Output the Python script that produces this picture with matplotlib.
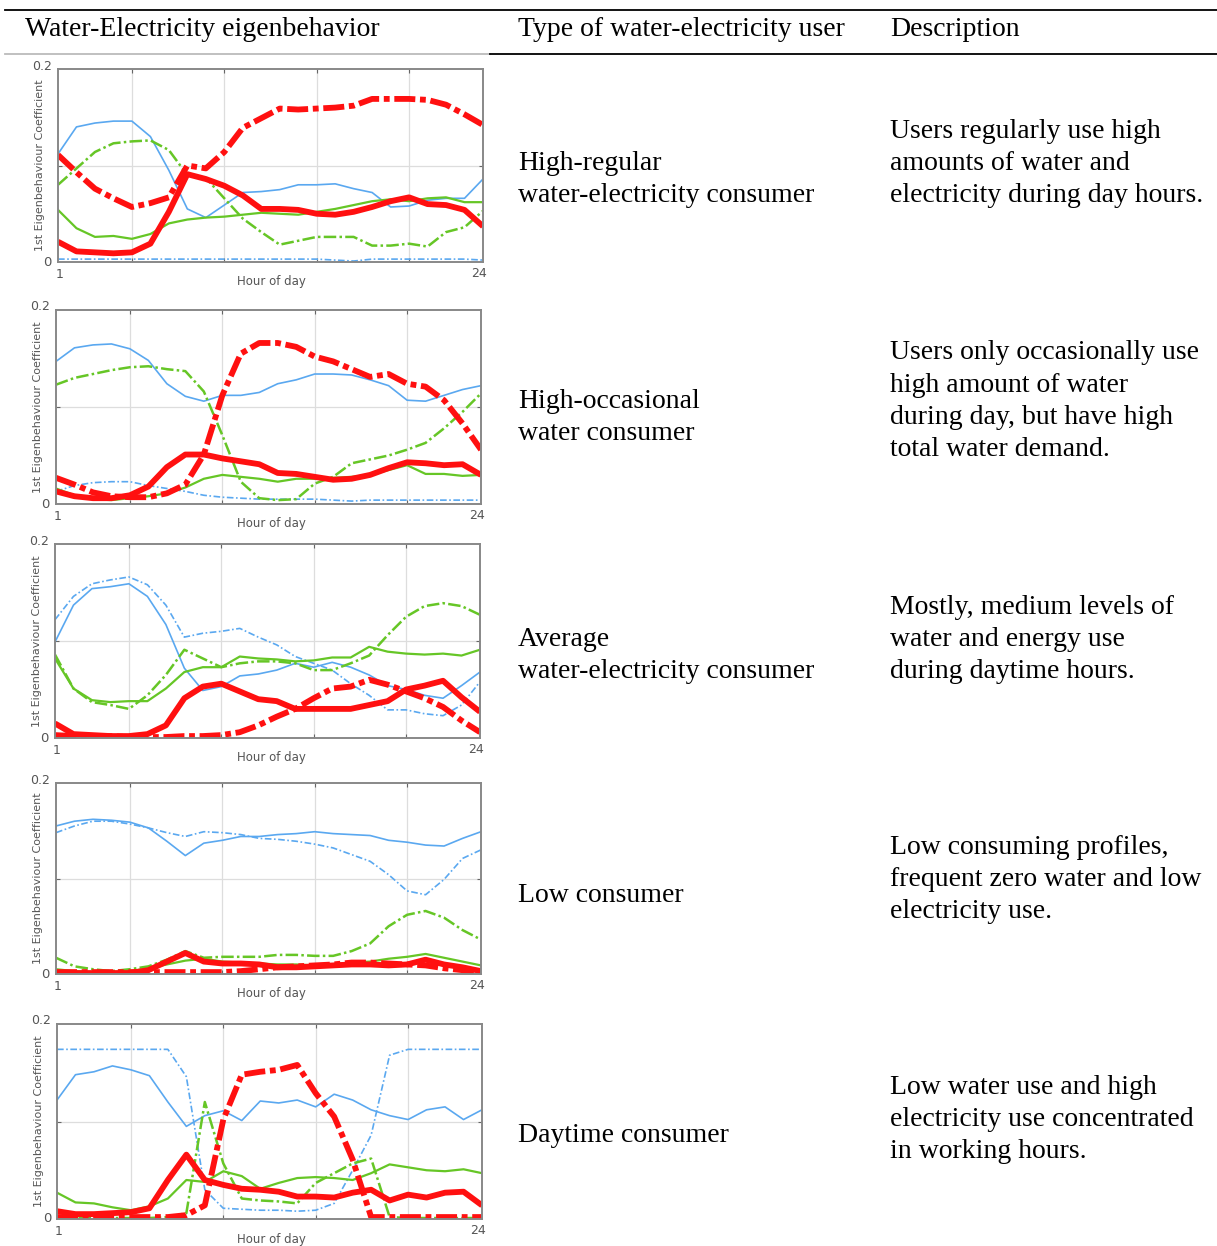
"""Table of water-electricity eigenbehaviour profiles with user types and descriptions."""
import matplotlib
matplotlib.use("Agg")
import matplotlib.pyplot as plt
from matplotlib.lines import Line2D

W, H = 1217, 1246
BLUE, GREEN, RED = "#5aa8f0", "#66c626", "#ff1010"
SERIF = ["Liberation Serif", "DejaVu Serif"]

hours = list(range(1, 25))

# panel 1: high-regular
hr_blue = [0.112, 0.140, 0.144, 0.146, 0.146, 0.130, 0.095, 0.055, 0.046, 0.059, 0.072, 0.073,
           0.075, 0.080, 0.080, 0.081, 0.076, 0.072, 0.057, 0.058, 0.064, 0.066, 0.066, 0.086]
hr_blue_dd = [0.003, 0.003, 0.003, 0.003, 0.003, 0.003, 0.003, 0.003, 0.003, 0.003, 0.003, 0.003,
              0.003, 0.003, 0.003, 0.002, 0.001, 0.003, 0.003, 0.003, 0.003, 0.003, 0.003, 0.002]
hr_green = [0.054, 0.035, 0.026, 0.027, 0.024, 0.029, 0.040, 0.044, 0.046, 0.047, 0.049, 0.051,
            0.050, 0.049, 0.052, 0.055, 0.059, 0.063, 0.065, 0.063, 0.066, 0.067, 0.062, 0.062]
hr_green_dd = [0.080, 0.097, 0.114, 0.123, 0.125, 0.126, 0.116, 0.090, 0.087, 0.066, 0.045, 0.031,
               0.018, 0.022, 0.026, 0.026, 0.026, 0.017, 0.017, 0.019, 0.016, 0.031, 0.036, 0.053]
hr_red = [0.021, 0.011, 0.010, 0.009, 0.010, 0.019, 0.052, 0.091, 0.086, 0.079, 0.069, 0.055,
          0.055, 0.054, 0.050, 0.049, 0.052, 0.057, 0.063, 0.067, 0.060, 0.059, 0.054, 0.037]
hr_red_dd = [0.111, 0.093, 0.076, 0.066, 0.057, 0.061, 0.067, 0.100, 0.097, 0.114, 0.139, 0.149,
             0.159, 0.158, 0.159, 0.160, 0.162, 0.169, 0.169, 0.169, 0.168, 0.163, 0.153, 0.142]

# panel 2: high-occasional
ho_blue = [0.147, 0.161, 0.164, 0.165, 0.160, 0.148, 0.124, 0.111, 0.106, 0.112, 0.112, 0.115,
           0.124, 0.128, 0.134, 0.134, 0.133, 0.128, 0.122, 0.107, 0.106, 0.112, 0.118, 0.122]
ho_blue_dd = [0.013, 0.019, 0.022, 0.023, 0.023, 0.019, 0.016, 0.013, 0.009, 0.007, 0.006, 0.005,
              0.005, 0.005, 0.005, 0.004, 0.003, 0.004, 0.004, 0.004, 0.004, 0.004, 0.004, 0.004]
ho_green = [0.016, 0.009, 0.005, 0.004, 0.006, 0.008, 0.011, 0.017, 0.026, 0.030, 0.028, 0.026,
            0.023, 0.026, 0.026, 0.027, 0.028, 0.030, 0.035, 0.040, 0.031, 0.031, 0.029, 0.030]
ho_green_dd = [0.123, 0.130, 0.134, 0.138, 0.141, 0.142, 0.139, 0.137, 0.116, 0.071, 0.023, 0.006,
               0.004, 0.005, 0.021, 0.028, 0.042, 0.046, 0.050, 0.056, 0.063, 0.078, 0.095, 0.114]
ho_red = [0.013, 0.008, 0.006, 0.006, 0.009, 0.018, 0.038, 0.051, 0.051, 0.047, 0.044, 0.041,
          0.032, 0.031, 0.028, 0.025, 0.026, 0.030, 0.037, 0.043, 0.042, 0.040, 0.041, 0.030]
ho_red_dd = [0.027, 0.020, 0.012, 0.008, 0.007, 0.007, 0.011, 0.020, 0.051, 0.112, 0.155, 0.166,
             0.166, 0.162, 0.152, 0.147, 0.139, 0.131, 0.134, 0.124, 0.121, 0.107, 0.083, 0.056]

# panel 3: average
av_blue = [0.099, 0.137, 0.154, 0.156, 0.159, 0.146, 0.117, 0.072, 0.049, 0.053, 0.064, 0.066,
           0.070, 0.077, 0.073, 0.078, 0.073, 0.065, 0.054, 0.050, 0.044, 0.041, 0.054, 0.068]
av_blue_dd = [0.122, 0.146, 0.159, 0.163, 0.166, 0.158, 0.137, 0.104, 0.108, 0.110, 0.113, 0.104,
              0.096, 0.084, 0.077, 0.070, 0.056, 0.044, 0.029, 0.029, 0.025, 0.023, 0.034, 0.058]
av_green = [0.082, 0.051, 0.039, 0.037, 0.038, 0.038, 0.051, 0.068, 0.073, 0.073, 0.084, 0.082,
            0.081, 0.079, 0.080, 0.083, 0.083, 0.094, 0.089, 0.087, 0.086, 0.087, 0.085, 0.091]
av_green_dd = [0.086, 0.051, 0.037, 0.034, 0.030, 0.044, 0.065, 0.091, 0.082, 0.073, 0.077, 0.079,
               0.079, 0.077, 0.070, 0.070, 0.077, 0.085, 0.106, 0.125, 0.136, 0.139, 0.136, 0.127]
av_red = [0.015, 0.004, 0.003, 0.002, 0.002, 0.004, 0.013, 0.041, 0.053, 0.056, 0.048, 0.040,
          0.038, 0.030, 0.030, 0.030, 0.030, 0.034, 0.038, 0.050, 0.054, 0.059, 0.042, 0.027]
av_red_dd = [0.003, 0.002, 0.002, 0.002, 0.001, 0.001, 0.001, 0.002, 0.002, 0.003, 0.006, 0.013,
             0.022, 0.030, 0.041, 0.051, 0.053, 0.060, 0.055, 0.048, 0.041, 0.032, 0.018, 0.006]

# panel 4: low consumer
lo_blue = [0.155, 0.160, 0.162, 0.161, 0.159, 0.153, 0.139, 0.124, 0.137, 0.140, 0.144, 0.144,
           0.146, 0.147, 0.149, 0.147, 0.146, 0.145, 0.140, 0.138, 0.135, 0.134, 0.142, 0.149]
lo_blue_dd = [0.148, 0.155, 0.160, 0.160, 0.157, 0.153, 0.148, 0.144, 0.149, 0.148, 0.146, 0.142,
              0.141, 0.139, 0.136, 0.132, 0.125, 0.118, 0.104, 0.087, 0.083, 0.099, 0.121, 0.130]
lo_green = [0.005, 0.003, 0.002, 0.002, 0.003, 0.006, 0.010, 0.014, 0.016, 0.013, 0.012, 0.011,
            0.010, 0.010, 0.009, 0.010, 0.012, 0.013, 0.016, 0.018, 0.021, 0.017, 0.013, 0.009]
lo_green_dd = [0.017, 0.008, 0.005, 0.003, 0.005, 0.008, 0.015, 0.024, 0.017, 0.018, 0.018, 0.018,
               0.020, 0.020, 0.019, 0.019, 0.024, 0.032, 0.050, 0.062, 0.066, 0.059, 0.046, 0.036]
lo_red = [0.001, 0.001, 0.001, 0.001, 0.001, 0.004, 0.013, 0.022, 0.013, 0.011, 0.011, 0.010,
          0.007, 0.007, 0.008, 0.009, 0.010, 0.010, 0.009, 0.010, 0.015, 0.010, 0.007, 0.003]
lo_red_dd = [0.002, 0.002, 0.002, 0.002, 0.002, 0.002, 0.002, 0.002, 0.002, 0.002, 0.003, 0.005,
             0.007, 0.008, 0.009, 0.010, 0.012, 0.012, 0.011, 0.010, 0.009, 0.006, 0.004, 0.002]

# panel 5: daytime consumer
dt_blue = [0.122, 0.148, 0.151, 0.157, 0.153, 0.147, 0.120, 0.095, 0.106, 0.111, 0.101, 0.121,
           0.119, 0.122, 0.115, 0.128, 0.122, 0.112, 0.106, 0.102, 0.112, 0.115, 0.102, 0.112]
dt_blue_dd = [0.174, 0.174, 0.174, 0.174, 0.174, 0.174, 0.174, 0.146, 0.030, 0.011, 0.010, 0.009,
              0.009, 0.008, 0.009, 0.016, 0.050, 0.086, 0.168, 0.174, 0.174, 0.174, 0.174, 0.174]
dt_green = [0.027, 0.017, 0.016, 0.012, 0.009, 0.013, 0.021, 0.040, 0.038, 0.049, 0.044, 0.031,
            0.037, 0.042, 0.043, 0.042, 0.040, 0.047, 0.056, 0.053, 0.050, 0.049, 0.051, 0.047]
dt_green_dd = [0.001, 0.001, 0.001, 0.001, 0.001, 0.001, 0.002, 0.006, 0.120, 0.057, 0.021, 0.019,
               0.018, 0.016, 0.037, 0.047, 0.057, 0.062, 0.002, 0.001, 0.001, 0.001, 0.001, 0.001]
dt_red = [0.008, 0.005, 0.005, 0.006, 0.007, 0.011, 0.040, 0.066, 0.040, 0.035, 0.031, 0.030,
          0.028, 0.023, 0.023, 0.022, 0.027, 0.030, 0.019, 0.025, 0.022, 0.027, 0.028, 0.014]
dt_red_dd = [0.002, 0.002, 0.002, 0.002, 0.002, 0.002, 0.002, 0.004, 0.014, 0.102, 0.148, 0.151,
             0.153, 0.158, 0.129, 0.105, 0.061, 0.002, 0.002, 0.002, 0.002, 0.002, 0.002, 0.002]

panels = [
    [hr_blue, hr_blue_dd, hr_green, hr_green_dd, hr_red, hr_red_dd],
    [ho_blue, ho_blue_dd, ho_green, ho_green_dd, ho_red, ho_red_dd],
    [av_blue, av_blue_dd, av_green, av_green_dd, av_red, av_red_dd],
    [lo_blue, lo_blue_dd, lo_green, lo_green_dd, lo_red, lo_red_dd],
    [dt_blue, dt_blue_dd, dt_green, dt_green_dd, dt_red, dt_red_dd],
]

headers = ["Water-Electricity eigenbehavior", "Type of water-electricity user", "Description"]
user_types = [
    ["High-regular", "water-electricity consumer"],
    ["High-occasional", "water consumer"],
    ["Average", "water-electricity consumer"],
    ["Low consumer"],
    ["Daytime consumer"],
]
descriptions = [
    ["Users regularly use high", "amounts of water and", "electricity during day hours."],
    ["Users only occasionally use", "high amount of water", "during day, but have high", "total water demand."],
    ["Mostly, medium levels of", "water and energy use", "during daytime hours."],
    ["Low consuming profiles,", "frequent zero water and low", "electricity use."],
    ["Low water use and high", "electricity use concentrated", "in working hours."],
]

# pixel boxes (left, top, right, bottom) of the plot areas, and text centres
boxes = [(58, 69, 483, 262), (56, 310, 481, 504), (55, 544, 480, 738),
         (56, 783, 481, 974), (57, 1024, 482, 1219)]
type_mid = [179, 417, 655, 895, 1135]
desc_mid = [163, 401, 639, 879, 1119]

styles = [
    dict(color=BLUE, lw=1.2, ls="-"),
    dict(color=BLUE, lw=1.2, ls=(0, (4, 1.5, 1, 1.5))),
    dict(color=GREEN, lw=1.6, ls="-"),
    dict(color=GREEN, lw=1.8, ls=(0, (5, 1.3, 1, 1.3))),
    dict(color=RED, lw=4.2, ls="-", solid_capstyle="butt"),
    dict(color=RED, lw=4.2, ls=(0, (3.6, 0.8, 1, 0.8))),
]

fig = plt.figure(figsize=(W / 100, H / 100), dpi=100)


def px(x, y):
    return x / W, 1 - y / H


def text_block(x, mid, lines):
    y0 = mid - (len(lines) - 1) * 16
    for k, txt in enumerate(lines):
        fig.text(*px(x, y0 + 32 * k), txt, family=SERIF, fontsize=FS, va="center", ha="left")


# table rules
fig.add_artist(Line2D([5 / W, 1], [1 - 10 / H] * 2, color="black", lw=1.3))
fig.add_artist(Line2D([5 / W, 490 / W], [1 - 54 / H] * 2, color="#bbbbbb", lw=1.3))
fig.add_artist(Line2D([490 / W, 1], [1 - 54 / H] * 2, color="black", lw=1.3))

FS = 20
for x, txt in zip([25, 518, 890], headers):
    fig.text(*px(x, 30), txt, family=SERIF, fontsize=FS, va="center", ha="left")

grey = "#555555"
for i, series in enumerate(panels):
    l, t, r, b = boxes[i]
    ax = fig.add_axes([l / W, 1 - b / H, (r - l) / W, (b - t) / H])
    for vals, st in zip(series, styles):
        ax.plot(hours, vals, **st)
    ax.set_xlim(1, 24)
    ax.set_ylim(0, 0.2)
    ax.set_xticks([5, 10, 15, 20])
    ax.set_yticks([0.1])
    ax.set_xticklabels([])
    ax.set_yticklabels([])
    ax.tick_params(direction="in", length=3, color="#666666", top=True, right=True, width=0.8)
    ax.grid(True, color="#dddddd", lw=0.9)
    for sp in ax.spines.values():
        sp.set_color("#888888")
        sp.set_linewidth(1.4)
    w_ax = r - l
    h_ax = b - t
    ax.text(-6 / w_ax, 1 + 3 / h_ax, "0.2", transform=ax.transAxes, fontsize=9,
            color=grey, ha="right", va="center")
    ax.text(-6 / w_ax, 0, "0", transform=ax.transAxes, fontsize=9.5,
            color=grey, ha="right", va="center")
    ax.text(1.5 / w_ax, -6 / h_ax, "1", transform=ax.transAxes, fontsize=9,
            color=grey, ha="center", va="top")
    ax.text(1 - 4 / w_ax, -5 / h_ax, "24", transform=ax.transAxes, fontsize=9,
            color=grey, ha="center", va="top")
    ax.text((271 - l) / w_ax, -(20 / h_ax), "Hour of day", transform=ax.transAxes,
            fontsize=8.5, color=grey, ha="center", va="center")
    ax.text(-18 / w_ax, 0.5, "1st Eigenbehaviour Coefficient", transform=ax.transAxes,
            fontsize=8, color=grey, ha="center", va="center", rotation=90)

    text_block(518, type_mid[i], user_types[i])
    text_block(890, desc_mid[i], descriptions[i])

fig.savefig("out.png", dpi=100)
